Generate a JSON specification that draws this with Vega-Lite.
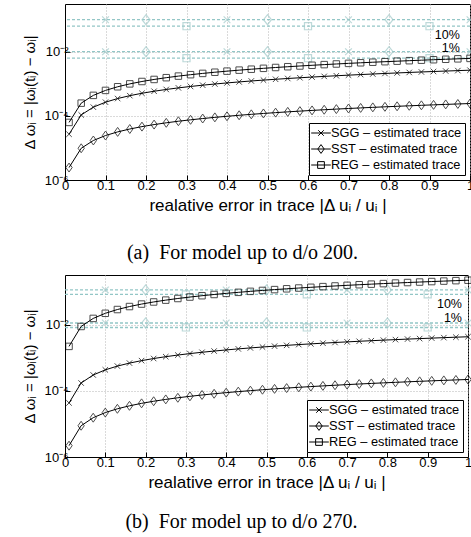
{
  "$schema": "https://vega.github.io/schema/vega-lite/v6.json",
  "background": "white",
  "padding": {"left": 22, "top": 3, "right": 0, "bottom": 0},
  "spacing": 10,
  "config": {
    "font": "Liberation Sans",
    "view": {"stroke": "black", "strokeWidth": 1},
    "axis": {"domainColor": "black", "tickColor": "black", "labelColor": "black", "titleColor": "black", "gridColor": "#b4b4b4", "gridDash": [1, 2], "gridWidth": 1, "labelFontSize": 13, "titleFontSize": 17, "titleFontWeight": "normal", "labelFlush": false, "labelOverlap": false, "tickSize": -5},
    "legend": {"orient": "bottom-right", "offset": 5, "strokeColor": "black", "fillColor": "white", "padding": 3, "labelFontSize": 12.8, "labelColor": "black", "symbolStrokeColor": "black", "symbolFillColor": "transparent", "symbolStrokeWidth": 1, "symbolOpacity": 1, "symbolSize": 150, "symbolOffset": 2, "rowPadding": 2, "labelOffset": 3, "title": null},
    "title": {"font": "Liberation Serif", "fontSize": 20, "fontWeight": "normal", "color": "black", "orient": "bottom", "anchor": "middle"}
  },
  "resolve": {"scale": {"shape": "independent"}, "legend": {"shape": "independent"}},
  "datasets": {
    "a": [
      {"x": 0.01, "SGG": 0.000027, "SST": 0.00000245, "REG": 0.000063},
      {"x": 0.04, "SGG": 0.000108, "SST": 0.0000098, "REG": 0.000252},
      {"x": 0.07, "SGG": 0.000189, "SST": 0.00001715, "REG": 0.000441},
      {"x": 0.10, "SGG": 0.00027, "SST": 0.0000245, "REG": 0.00063},
      {"x": 0.13, "SGG": 0.000351, "SST": 0.00003185, "REG": 0.000819},
      {"x": 0.16, "SGG": 0.000432, "SST": 0.0000392, "REG": 0.001008},
      {"x": 0.19, "SGG": 0.000513, "SST": 0.00004655, "REG": 0.001197},
      {"x": 0.22, "SGG": 0.000594, "SST": 0.0000539, "REG": 0.001386},
      {"x": 0.25, "SGG": 0.000675, "SST": 0.00006125, "REG": 0.001575},
      {"x": 0.28, "SGG": 0.000756, "SST": 0.0000686, "REG": 0.001764},
      {"x": 0.31, "SGG": 0.000837, "SST": 0.00007595, "REG": 0.001953},
      {"x": 0.34, "SGG": 0.000918, "SST": 0.0000833, "REG": 0.002142},
      {"x": 0.37, "SGG": 0.000999, "SST": 0.00009065, "REG": 0.002331},
      {"x": 0.40, "SGG": 0.00108, "SST": 0.000098, "REG": 0.00252},
      {"x": 0.43, "SGG": 0.001161, "SST": 0.00010535, "REG": 0.002709},
      {"x": 0.46, "SGG": 0.001242, "SST": 0.0001127, "REG": 0.002898},
      {"x": 0.49, "SGG": 0.001323, "SST": 0.00012005, "REG": 0.003087},
      {"x": 0.52, "SGG": 0.001404, "SST": 0.0001274, "REG": 0.003276},
      {"x": 0.55, "SGG": 0.001485, "SST": 0.00013475, "REG": 0.003465},
      {"x": 0.58, "SGG": 0.001566, "SST": 0.0001421, "REG": 0.003654},
      {"x": 0.61, "SGG": 0.001647, "SST": 0.00014945, "REG": 0.003843},
      {"x": 0.64, "SGG": 0.001728, "SST": 0.0001568, "REG": 0.004032},
      {"x": 0.67, "SGG": 0.001809, "SST": 0.00016415, "REG": 0.004221},
      {"x": 0.70, "SGG": 0.00189, "SST": 0.0001715, "REG": 0.00441},
      {"x": 0.73, "SGG": 0.001971, "SST": 0.00017885, "REG": 0.004599},
      {"x": 0.76, "SGG": 0.002052, "SST": 0.0001862, "REG": 0.004788},
      {"x": 0.79, "SGG": 0.002133, "SST": 0.00019355, "REG": 0.004977},
      {"x": 0.82, "SGG": 0.002214, "SST": 0.0002009, "REG": 0.005166},
      {"x": 0.85, "SGG": 0.002295, "SST": 0.00020825, "REG": 0.005355},
      {"x": 0.88, "SGG": 0.002376, "SST": 0.0002156, "REG": 0.005544},
      {"x": 0.91, "SGG": 0.002457, "SST": 0.00022295, "REG": 0.005733},
      {"x": 0.94, "SGG": 0.002538, "SST": 0.0002303, "REG": 0.005922},
      {"x": 0.97, "SGG": 0.002619, "SST": 0.00023765, "REG": 0.006111},
      {"x": 1.00, "SGG": 0.0027, "SST": 0.000245, "REG": 0.0063}
    ],
    "b": [
      {"x": 0.01, "SGG": 0.000043, "SST": 0.0000022, "REG": 0.0022},
      {"x": 0.04, "SGG": 0.000172, "SST": 0.0000088, "REG": 0.0088},
      {"x": 0.07, "SGG": 0.000301, "SST": 0.0000154, "REG": 0.0154},
      {"x": 0.10, "SGG": 0.00043, "SST": 0.000022, "REG": 0.022},
      {"x": 0.13, "SGG": 0.000559, "SST": 0.0000286, "REG": 0.0286},
      {"x": 0.16, "SGG": 0.000688, "SST": 0.0000352, "REG": 0.0352},
      {"x": 0.19, "SGG": 0.000817, "SST": 0.0000418, "REG": 0.0418},
      {"x": 0.22, "SGG": 0.000946, "SST": 0.0000484, "REG": 0.0484},
      {"x": 0.25, "SGG": 0.001075, "SST": 0.000055, "REG": 0.055},
      {"x": 0.28, "SGG": 0.001204, "SST": 0.0000616, "REG": 0.0616},
      {"x": 0.31, "SGG": 0.001333, "SST": 0.0000682, "REG": 0.0682},
      {"x": 0.34, "SGG": 0.001462, "SST": 0.0000748, "REG": 0.0748},
      {"x": 0.37, "SGG": 0.001591, "SST": 0.0000814, "REG": 0.0814},
      {"x": 0.40, "SGG": 0.00172, "SST": 0.000088, "REG": 0.088},
      {"x": 0.43, "SGG": 0.001849, "SST": 0.0000946, "REG": 0.0946},
      {"x": 0.46, "SGG": 0.001978, "SST": 0.0001012, "REG": 0.1012},
      {"x": 0.49, "SGG": 0.002107, "SST": 0.0001078, "REG": 0.1078},
      {"x": 0.52, "SGG": 0.002236, "SST": 0.0001144, "REG": 0.1144},
      {"x": 0.55, "SGG": 0.002365, "SST": 0.000121, "REG": 0.121},
      {"x": 0.58, "SGG": 0.002494, "SST": 0.0001276, "REG": 0.1276},
      {"x": 0.61, "SGG": 0.002623, "SST": 0.0001342, "REG": 0.1342},
      {"x": 0.64, "SGG": 0.002752, "SST": 0.0001408, "REG": 0.1408},
      {"x": 0.67, "SGG": 0.002881, "SST": 0.0001474, "REG": 0.1474},
      {"x": 0.70, "SGG": 0.00301, "SST": 0.000154, "REG": 0.154},
      {"x": 0.73, "SGG": 0.003139, "SST": 0.0001606, "REG": 0.1606},
      {"x": 0.76, "SGG": 0.003268, "SST": 0.0001672, "REG": 0.1672},
      {"x": 0.79, "SGG": 0.003397, "SST": 0.0001738, "REG": 0.1738},
      {"x": 0.82, "SGG": 0.003526, "SST": 0.0001804, "REG": 0.1804},
      {"x": 0.85, "SGG": 0.003655, "SST": 0.000187, "REG": 0.187},
      {"x": 0.88, "SGG": 0.003784, "SST": 0.0001936, "REG": 0.1936},
      {"x": 0.91, "SGG": 0.003913, "SST": 0.0002002, "REG": 0.2002},
      {"x": 0.94, "SGG": 0.004042, "SST": 0.0002068, "REG": 0.2068},
      {"x": 0.97, "SGG": 0.004171, "SST": 0.0002134, "REG": 0.2134},
      {"x": 1.00, "SGG": 0.0043, "SST": 0.00022, "REG": 0.22}
    ],
    "thr": [
      {"panel": "a", "y": 0.102}, {"panel": "a", "y": 0.0102}, {"panel": "a", "y": 0.064}, {"panel": "a", "y": 0.0064},
      {"panel": "b", "y": 0.112}, {"panel": "b", "y": 0.0112}, {"panel": "b", "y": 0.082}, {"panel": "b", "y": 0.0082}
    ],
    "thrMarks": [
      {"panel": "a", "series": "SGG", "x": 0.1, "y": 0.102}, {"panel": "a", "series": "SGG", "x": 0.4, "y": 0.102}, {"panel": "a", "series": "SGG", "x": 0.7, "y": 0.102}, {"panel": "a", "series": "SGG", "x": 1.0, "y": 0.102},
      {"panel": "a", "series": "SGG", "x": 0.1, "y": 0.0102}, {"panel": "a", "series": "SGG", "x": 0.4, "y": 0.0102}, {"panel": "a", "series": "SGG", "x": 0.7, "y": 0.0102}, {"panel": "a", "series": "SGG", "x": 1.0, "y": 0.0102},
      {"panel": "a", "series": "SST", "x": 0.2, "y": 0.102}, {"panel": "a", "series": "SST", "x": 0.5, "y": 0.102}, {"panel": "a", "series": "SST", "x": 0.8, "y": 0.102},
      {"panel": "a", "series": "SST", "x": 0.2, "y": 0.0102}, {"panel": "a", "series": "SST", "x": 0.5, "y": 0.0102}, {"panel": "a", "series": "SST", "x": 0.8, "y": 0.0102},
      {"panel": "a", "series": "REG", "x": 0.3, "y": 0.064}, {"panel": "a", "series": "REG", "x": 0.6, "y": 0.064}, {"panel": "a", "series": "REG", "x": 0.9, "y": 0.064},
      {"panel": "a", "series": "REG", "x": 0.3, "y": 0.0064}, {"panel": "a", "series": "REG", "x": 0.6, "y": 0.0064}, {"panel": "a", "series": "REG", "x": 0.9, "y": 0.0064},
      {"panel": "b", "series": "SGG", "x": 0.1, "y": 0.112}, {"panel": "b", "series": "SGG", "x": 0.4, "y": 0.112}, {"panel": "b", "series": "SGG", "x": 0.7, "y": 0.112}, {"panel": "b", "series": "SGG", "x": 1.0, "y": 0.112},
      {"panel": "b", "series": "SGG", "x": 0.1, "y": 0.0112}, {"panel": "b", "series": "SGG", "x": 0.4, "y": 0.0112}, {"panel": "b", "series": "SGG", "x": 0.7, "y": 0.0112}, {"panel": "b", "series": "SGG", "x": 1.0, "y": 0.0112},
      {"panel": "b", "series": "SST", "x": 0.2, "y": 0.112}, {"panel": "b", "series": "SST", "x": 0.5, "y": 0.112}, {"panel": "b", "series": "SST", "x": 0.8, "y": 0.112},
      {"panel": "b", "series": "SST", "x": 0.2, "y": 0.0112}, {"panel": "b", "series": "SST", "x": 0.5, "y": 0.0112}, {"panel": "b", "series": "SST", "x": 0.8, "y": 0.0112},
      {"panel": "b", "series": "REG", "x": 0.3, "y": 0.082}, {"panel": "b", "series": "REG", "x": 0.6, "y": 0.082}, {"panel": "b", "series": "REG", "x": 0.9, "y": 0.082},
      {"panel": "b", "series": "REG", "x": 0.3, "y": 0.0082}, {"panel": "b", "series": "REG", "x": 0.6, "y": 0.0082}, {"panel": "b", "series": "REG", "x": 0.9, "y": 0.0082}
    ],
    "pct": [
      {"panel": "a", "label": "10%", "x": 0.975, "y": 0.034}, {"panel": "a", "label": "1%", "x": 0.975, "y": 0.0135},
      {"panel": "b", "label": "10%", "x": 0.985, "y": 0.041}, {"panel": "b", "label": "1%", "x": 0.985, "y": 0.0155}
    ]
  },
  "vconcat": [
    {
      "width": 405, "height": 176,
      "title": {"text": "(a)\u2002For model up to d/o 200.", "offset": 30, "dx": -25},
      "data": {"name": "a"},
      "transform": [{"fold": ["SGG", "SST", "REG"], "as": ["series", "y"]}],
      "layer": [
        {
          "data": {"name": "thr"},
          "transform": [{"filter": "datum.panel == 'a'"}],
          "mark": {"type": "rule", "color": "#92c6c6", "strokeWidth": 1.3, "strokeDash": [3, 2]},
          "encoding": {
            "y": {"field": "y", "type": "quantitative", "scale": {"type": "log", "domain": [0.000001, 0.316], "nice": false},
              "axis": {"values": [0.000001, 0.0001, 0.01], "labelExpr": "datum.value < 0.00001 ? '10⁻⁶' : datum.value < 0.001 ? '10⁻⁴' : '10⁻²'", "labelPadding": 2, "title": "Δ ωᵢ = |ωᵢ(tᵢ) − ωᵢ|", "titleFontSize": 15, "titlePadding": 6}}
          }
        },
        {
          "data": {"name": "thrMarks"},
          "transform": [{"filter": "datum.panel == 'a' && datum.series == 'SGG'"}],
          "mark": {"type": "point", "shape": "M-1,-1L1,1M-1,1L1,-1", "filled": false, "color": "#a2caca", "size": 45, "strokeWidth": 1.2},
          "encoding": {"x": {"field": "x", "type": "quantitative"}, "y": {"field": "y", "type": "quantitative"}}
        },
        {
          "data": {"name": "thrMarks"},
          "transform": [{"filter": "datum.panel == 'a' && datum.series == 'SST'"}],
          "mark": {"type": "point", "shape": "M0,-1.2L0.95,0L0,1.2L-0.95,0Z", "filled": false, "color": "#a2caca", "size": 70, "strokeWidth": 1.2},
          "encoding": {"x": {"field": "x", "type": "quantitative"}, "y": {"field": "y", "type": "quantitative"}}
        },
        {
          "data": {"name": "thrMarks"},
          "transform": [{"filter": "datum.panel == 'a' && datum.series == 'REG'"}],
          "mark": {"type": "point", "shape": "M-1,-1H1V1H-1Z", "filled": false, "color": "#a2caca", "size": 50, "strokeWidth": 1.2},
          "encoding": {"x": {"field": "x", "type": "quantitative"}, "y": {"field": "y", "type": "quantitative"}}
        },
        {
          "data": {"name": "pct"},
          "transform": [{"filter": "datum.panel == 'a'"}],
          "mark": {"type": "text", "align": "right", "baseline": "middle", "fontSize": 12.5, "color": "black"},
          "encoding": {"x": {"field": "x", "type": "quantitative"}, "y": {"field": "y", "type": "quantitative"}, "text": {"field": "label"}}
        },
        {
          "mark": {"type": "line", "color": "black", "strokeWidth": 1},
          "encoding": {
            "x": {"field": "x", "type": "quantitative", "scale": {"domain": [0, 1], "nice": false, "zero": false},
              "axis": {"values": [0, 0.1, 0.2, 0.3, 0.4, 0.5, 0.6, 0.7, 0.8, 0.9, 1], "format": "~g", "labelPadding": 4, "title": "realative error in trace |Δ uᵢ / uᵢ |", "titlePadding": 5}},
            "y": {"field": "y", "type": "quantitative"},
            "detail": {"field": "series"}
          }
        },
        {
          "transform": [{"filter": "datum.series == 'SGG'"}],
          "mark": {"type": "point", "shape": "M-1,-1L1,1M-1,1L1,-1", "filled": false, "color": "black", "size": 30, "strokeWidth": 1},
          "encoding": {"x": {"field": "x", "type": "quantitative"}, "y": {"field": "y", "type": "quantitative"}}
        },
        {
          "transform": [{"filter": "datum.series == 'SST'"}],
          "mark": {"type": "point", "shape": "M0,-1.35L0.95,0L0,1.35L-0.95,0Z", "filled": false, "color": "black", "size": 44, "strokeWidth": 1},
          "encoding": {"x": {"field": "x", "type": "quantitative"}, "y": {"field": "y", "type": "quantitative"}}
        },
        {
          "transform": [{"filter": "datum.series == 'REG'"}],
          "mark": {"type": "point", "shape": "M-1,-1H1V1H-1Z", "filled": false, "color": "black", "size": 42, "strokeWidth": 1},
          "encoding": {"x": {"field": "x", "type": "quantitative"}, "y": {"field": "y", "type": "quantitative"}}
        },
        {
          "mark": {"type": "point", "filled": false, "color": "black", "opacity": 0, "size": 150},
          "encoding": {
            "x": {"field": "x", "type": "quantitative"}, "y": {"field": "y", "type": "quantitative"},
            "shape": {"field": "series", "type": "nominal",
              "scale": {"domain": ["SGG", "SST", "REG"], "range": ["M-1.6,0H1.6M-0.45,-0.45L0.45,0.45M-0.45,0.45L0.45,-0.45", "M-1.6,0H1.6M0,-0.72L0.52,0L0,0.72L-0.52,0Z", "M-1.6,0H1.6M-0.55,-0.55H0.55V0.55H-0.55Z"]},
              "legend": {"labelExpr": "datum.label + ' – estimated trace'", "symbolOpacity": 1}}
          }
        }
      ]
    },
    {
      "width": 403, "height": 182,
      "title": {"text": "(b)\u2002For model up to d/o 270.", "offset": 22, "dx": -25},
      "data": {"name": "b"},
      "transform": [{"fold": ["SGG", "SST", "REG"], "as": ["series", "y"]}],
      "layer": [
        {
          "data": {"name": "thr"},
          "transform": [{"filter": "datum.panel == 'b'"}],
          "mark": {"type": "rule", "color": "#92c6c6", "strokeWidth": 1.3, "strokeDash": [3, 2]},
          "encoding": {
            "y": {"field": "y", "type": "quantitative", "scale": {"type": "log", "domain": [0.000001, 0.316], "nice": false},
              "axis": {"values": [0.000001, 0.0001, 0.01], "labelExpr": "datum.value < 0.00001 ? '10⁻⁶' : datum.value < 0.001 ? '10⁻⁴' : '10⁻²'", "labelPadding": 2, "title": "Δ ωᵢ = |ωᵢ(tᵢ) − ωᵢ|", "titleFontSize": 15, "titlePadding": 6}}
          }
        },
        {
          "data": {"name": "thrMarks"},
          "transform": [{"filter": "datum.panel == 'b' && datum.series == 'SGG'"}],
          "mark": {"type": "point", "shape": "M-1,-1L1,1M-1,1L1,-1", "filled": false, "color": "#a2caca", "size": 45, "strokeWidth": 1.2},
          "encoding": {"x": {"field": "x", "type": "quantitative"}, "y": {"field": "y", "type": "quantitative"}}
        },
        {
          "data": {"name": "thrMarks"},
          "transform": [{"filter": "datum.panel == 'b' && datum.series == 'SST'"}],
          "mark": {"type": "point", "shape": "M0,-1.2L0.95,0L0,1.2L-0.95,0Z", "filled": false, "color": "#a2caca", "size": 70, "strokeWidth": 1.2},
          "encoding": {"x": {"field": "x", "type": "quantitative"}, "y": {"field": "y", "type": "quantitative"}}
        },
        {
          "data": {"name": "thrMarks"},
          "transform": [{"filter": "datum.panel == 'b' && datum.series == 'REG'"}],
          "mark": {"type": "point", "shape": "M-1,-1H1V1H-1Z", "filled": false, "color": "#a2caca", "size": 50, "strokeWidth": 1.2},
          "encoding": {"x": {"field": "x", "type": "quantitative"}, "y": {"field": "y", "type": "quantitative"}}
        },
        {
          "data": {"name": "pct"},
          "transform": [{"filter": "datum.panel == 'b'"}],
          "mark": {"type": "text", "align": "right", "baseline": "middle", "fontSize": 12.5, "color": "black"},
          "encoding": {"x": {"field": "x", "type": "quantitative"}, "y": {"field": "y", "type": "quantitative"}, "text": {"field": "label"}}
        },
        {
          "mark": {"type": "line", "color": "black", "strokeWidth": 1},
          "encoding": {
            "x": {"field": "x", "type": "quantitative", "scale": {"domain": [0, 1], "nice": false, "zero": false},
              "axis": {"values": [0, 0.1, 0.2, 0.3, 0.4, 0.5, 0.6, 0.7, 0.8, 0.9, 1], "format": "~g", "labelPadding": 4, "title": "realative error in trace |Δ uᵢ / uᵢ |", "titlePadding": 5}},
            "y": {"field": "y", "type": "quantitative"},
            "detail": {"field": "series"}
          }
        },
        {
          "transform": [{"filter": "datum.series == 'SGG'"}],
          "mark": {"type": "point", "shape": "M-1,-1L1,1M-1,1L1,-1", "filled": false, "color": "black", "size": 30, "strokeWidth": 1},
          "encoding": {"x": {"field": "x", "type": "quantitative"}, "y": {"field": "y", "type": "quantitative"}}
        },
        {
          "transform": [{"filter": "datum.series == 'SST'"}],
          "mark": {"type": "point", "shape": "M0,-1.35L0.95,0L0,1.35L-0.95,0Z", "filled": false, "color": "black", "size": 44, "strokeWidth": 1},
          "encoding": {"x": {"field": "x", "type": "quantitative"}, "y": {"field": "y", "type": "quantitative"}}
        },
        {
          "transform": [{"filter": "datum.series == 'REG'"}],
          "mark": {"type": "point", "shape": "M-1,-1H1V1H-1Z", "filled": false, "color": "black", "size": 42, "strokeWidth": 1},
          "encoding": {"x": {"field": "x", "type": "quantitative"}, "y": {"field": "y", "type": "quantitative"}}
        },
        {
          "mark": {"type": "point", "filled": false, "color": "black", "opacity": 0, "size": 150},
          "encoding": {
            "x": {"field": "x", "type": "quantitative"}, "y": {"field": "y", "type": "quantitative"},
            "shape": {"field": "series", "type": "nominal",
              "scale": {"domain": ["SGG", "SST", "REG"], "range": ["M-1.6,0H1.6M-0.45,-0.45L0.45,0.45M-0.45,0.45L0.45,-0.45", "M-1.6,0H1.6M0,-0.72L0.52,0L0,0.72L-0.52,0Z", "M-1.6,0H1.6M-0.55,-0.55H0.55V0.55H-0.55Z"]},
              "legend": {"labelExpr": "datum.label + ' – estimated trace'", "symbolOpacity": 1}}
          }
        }
      ]
    }
  ]
}
